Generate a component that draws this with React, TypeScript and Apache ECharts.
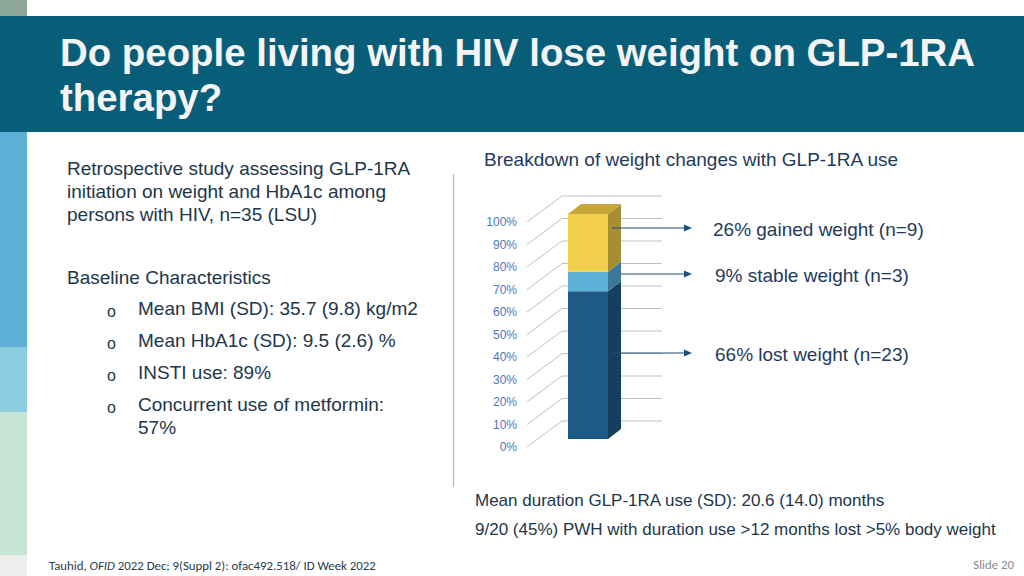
import React, { useEffect, useRef } from "react";
import * as echarts from "echarts";

// ---- data ----
const categories = ["GLP-1RA use"];
const segmentNames = ["Lost weight", "Stable weight", "Gained weight"];
const segmentValues = [65.7, 8.6, 25.7]; // % of n=35 (23, 3, 9)
const yTicks = [0, 10, 20, 30, 40, 50, 60, 70, 80, 90, 100];
const annotationTexts = ["26% gained weight (n=9)", "9% stable weight (n=3)", "66% lost weight (n=23)"];

const titleLines = ["Do people living with HIV lose weight on GLP-1RA", "therapy?"];
const introLines = [
  "Retrospective study assessing GLP-1RA",
  "initiation on weight and HbA1c among",
  "persons with HIV, n=35 (LSU)",
];
const baselineHeading = "Baseline Characteristics";
const baselineBullets = [
  ["Mean BMI (SD): 35.7 (9.8) kg/m2"],
  ["Mean HbA1c (SD): 9.5 (2.6) %"],
  ["INSTI use: 89%"],
  ["Concurrent use of metformin:", "57%"],
];
const chartTitle = "Breakdown of weight changes with GLP-1RA use";
const bottomNotes = [
  "Mean duration GLP-1RA use (SD): 20.6 (14.0) months",
  "9/20 (45%) PWH with duration use >12 months lost >5% body weight",
];
const footerParts = ["Tauhid, ", "OFID", " 2022 Dec; 9(Suppl 2): ofac492.518/ ID Week 2022"];
const slideNumber = "Slide 20";

// ---- styles ----
const FRONT = ["#1f5a86", "#5fb0d6", "#f2d04b"];
const SIDE = ["#153f5e", "#3d7898", "#a98d33"];
const TOP = ["#17476b", "#4d93b5", "#c7a63a"];
const TEXT = "#22364a";
const NAVY = "#1f3a5c";
const ARROW = "#1f4e79";
const SANS = "'Liberation Sans', Arial, Helvetica, sans-serif";

export default function App() {
  const ref = useRef<HTMLDivElement>(null);

  useEffect(() => {
    if (!ref.current) return;
    const chart = echarts.init(ref.current, undefined, { renderer: "svg" });

    // stacked segments
    const segData: number[][] = [];
    let acc = 0;
    segmentValues.forEach((v, i) => {
      segData.push([0, acc, acc + v, i, i === segmentValues.length - 1 ? 1 : 0]);
      acc += v;
    });

    const FX = 41; // front face offset from grid left
    const BW = 40; // bar width
    const FDY = -8; // front face vertical shift
    const DX = 13;
    const DY = -10;

    const graphics: any[] = [];
    // left stripes
    const stripes = [
      [0, 16, "#8ea99c"],
      [132, 215, "#5eafd6"],
      [347, 65, "#8dcde0"],
      [412, 143, "#c6e4d5"],
      [555, 21, "#eceeec"],
    ];
    stripes.forEach(([y, h, c]) =>
      graphics.push({ type: "rect", shape: { x: 0, y, width: 27, height: h }, style: { fill: c }, silent: true })
    );
    // header band
    graphics.push({ type: "rect", shape: { x: 0, y: 16, width: 1024, height: 116 }, style: { fill: "#085e78" } });
    titleLines.forEach((t, i) =>
      graphics.push({
        type: "text",
        x: 60,
        y: 52 + i * 45,
        style: { text: t, fill: "#f4f4f4", font: `bold 38.4px ${SANS}`, verticalAlign: "middle" },
      })
    );
    // left text
    introLines.forEach((t, i) =>
      graphics.push({
        type: "text",
        x: 67,
        y: 168 + i * 23,
        style: { text: t, fill: TEXT, font: `19px ${SANS}`, verticalAlign: "middle" },
      })
    );
    graphics.push({
      type: "text",
      x: 67,
      y: 277,
      style: { text: baselineHeading, fill: TEXT, font: `19px ${SANS}`, verticalAlign: "middle" },
    });
    let by = 308;
    baselineBullets.forEach((lines) => {
      graphics.push({
        type: "text",
        x: 107,
        y: by + 3,
        style: { text: "o", fill: TEXT, font: `16px ${SANS}`, verticalAlign: "middle" },
      });
      lines.forEach((t, j) =>
        graphics.push({
          type: "text",
          x: 138,
          y: by + j * 23,
          style: { text: t, fill: TEXT, font: `19px ${SANS}`, verticalAlign: "middle" },
        })
      );
      by += 32;
    });
    // divider
    graphics.push({
      type: "line",
      shape: { x1: 453.5, y1: 174, x2: 453.5, y2: 487 },
      style: { stroke: "#a9b9c6", lineWidth: 1.2 },
    });
    // chart title
    graphics.push({
      type: "text",
      x: 484,
      y: 159,
      style: { text: chartTitle, fill: NAVY, font: `19px ${SANS}`, verticalAlign: "middle" },
    });
    // arrows + annotations
    const arrows = [
      { x1: 612, y: 228, tx: 713 },
      { x1: 620, y: 274, tx: 715 },
      { x1: 612, y: 353, tx: 715 },
    ];
    arrows.forEach((a, i) => {
      graphics.push({
        type: "line",
        z: 100,
        shape: { x1: a.x1, y1: a.y, x2: 686, y2: a.y },
        style: { stroke: ARROW, lineWidth: 1.2 },
      });
      graphics.push({
        type: "polygon",
        z: 100,
        shape: { points: [[692, a.y], [684, a.y - 3.5], [684, a.y + 3.5]] },
        style: { fill: ARROW },
      });
      graphics.push({
        type: "text",
        x: a.tx,
        y: a.y + 1,
        style: { text: annotationTexts[i], fill: NAVY, font: `19px ${SANS}`, verticalAlign: "middle" },
      });
    });
    // bottom notes
    bottomNotes.forEach((t, i) =>
      graphics.push({
        type: "text",
        x: 475,
        y: 500 + i * 29,
        style: { text: t, fill: TEXT, font: `17px ${SANS}`, verticalAlign: "middle" },
      })
    );
    // footer
    graphics.push({
      type: "text",
      x: 49,
      y: 565,
      style: {
        text: `{a|${footerParts[0]}}{b|${footerParts[1]}}{a|${footerParts[2]}}`,
        verticalAlign: "middle",
        rich: {
          a: { font: `12.8px Carlito, Lato, ${SANS}`, fill: "#2b3a4a" },
          b: { font: `italic 12.8px Carlito, Lato, ${SANS}`, fill: "#2b3a4a" },
        },
      },
    });
    graphics.push({
      type: "text",
      x: 1014,
      y: 564,
      style: {
        text: slideNumber,
        fill: "#8a8a8a",
        font: `12.8px Carlito, Lato, ${SANS}`,
        align: "right",
        verticalAlign: "middle",
      },
    });

    chart.setOption({
      animation: false,
      backgroundColor: "#ffffff",
      graphic: { elements: graphics },
      grid: { left: 527, right: 362, top: 222, bottom: 129, containLabel: false },
      xAxis: { type: "category", data: categories, show: false },
      yAxis: {
        type: "value",
        min: 0,
        max: 100,
        interval: 10,
        axisLine: { show: false },
        axisTick: { show: false },
        splitLine: { show: false },
        axisLabel: { formatter: "{value}%", color: "#4a78c2", fontSize: 12, margin: 10, fontFamily: SANS },
      },
      series: [
        {
          type: "custom",
          name: "grid",
          silent: true,
          data: yTicks.map((v) => [0, v]),
          renderItem: (params: any, api: any) => {
            const cs = params.coordSys;
            const p = api.coord([0, api.value(1)]);
            const x0 = cs.x;
            const y = p[1];
            return {
              type: "polyline",
              shape: { points: [[x0, y], [x0 + 35, y - 26], [x0 + 135, y - 26]] },
              style: { stroke: "#bfbfbf", lineWidth: 1, fill: "none" },
            };
          },
        },
        {
          type: "custom",
          name: "Weight change",
          data: segData,
          encode: { x: 0, y: [1, 2] },
          renderItem: (params: any, api: any) => {
            const cs = params.coordSys;
            const idx = api.value(3);
            const isTop = api.value(4) === 1;
            const b = api.coord([0, api.value(1)]);
            const t = api.coord([0, api.value(2)]);
            const x = cs.x + FX;
            const yb = b[1] + FDY;
            const yt = t[1] + FDY;
            const children: any[] = [
              {
                type: "polygon",
                shape: { points: [[x + BW, yt], [x + BW + DX, yt + DY], [x + BW + DX, yb + DY], [x + BW, yb]] },
                style: { fill: SIDE[idx] },
              },
              {
                type: "rect",
                shape: { x, y: yt, width: BW, height: yb - yt },
                style: { fill: FRONT[idx] },
              },
            ];
            if (isTop) {
              children.push({
                type: "polygon",
                shape: { points: [[x, yt], [x + DX, yt + DY], [x + BW + DX, yt + DY], [x + BW, yt]] },
                style: { fill: TOP[idx] },
              });
            }
            return { type: "group", children };
          },
        },
      ],
    });
    return () => chart.dispose();
  }, []);

  return (
    <div
      ref={ref}
      style={{ position: "fixed", left: 0, top: 0, width: 1024, height: 576, background: "#fff" }}
    />
  );
}
